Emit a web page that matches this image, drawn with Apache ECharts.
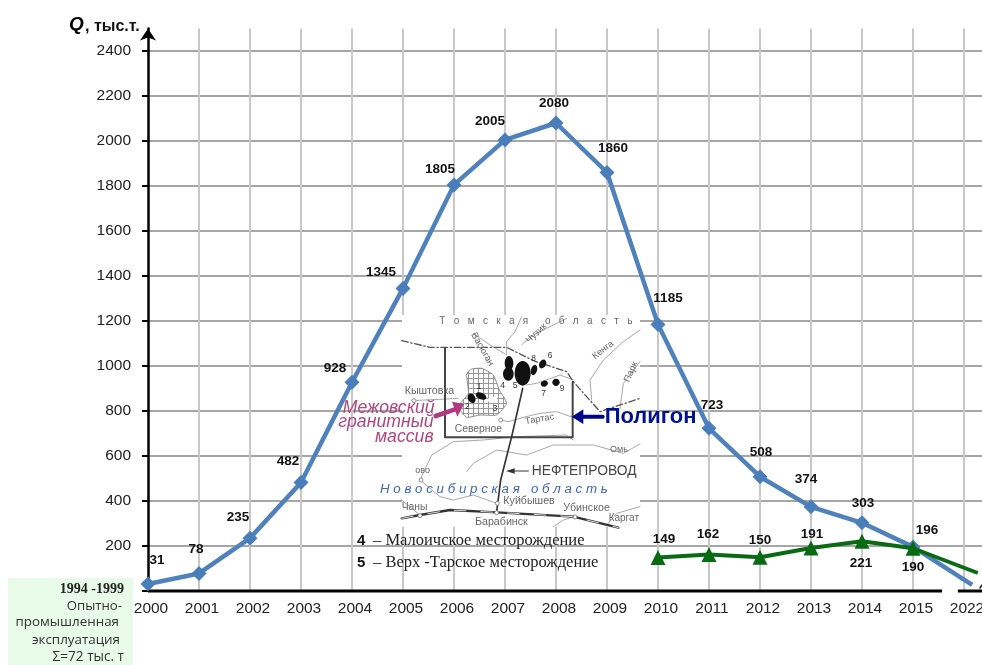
<!DOCTYPE html>
<html><head><meta charset="utf-8">
<style>html,body{margin:0;padding:0;background:#fff}#c{width:982px;height:665px}</style>
<script src="https://cdn.jsdelivr.net/npm/echarts@6/dist/echarts.min.js"></script>
</head><body><div id="c"></div>
<script>
// DATA
const tickYears = ['2000','2001','2002','2003','2004','2005','2006','2007','2008','2009','2010','2011','2012','2013','2014','2015','2022'];
const yTicks = [0,200,400,600,800,1000,1200,1400,1600,1800,2000,2200,2400];
const blueValues = [31,78,235,482,928,1345,1805,2005,2080,1860,1185,723,508,374,303,196];
const blueTail = [16.16,27];
const greenStart = 10;
const greenValues = [149,162,150,191,221,190];
const greenTail = [16.27,80];
const axisSegments = [[0,15.57],[15.88,16.36]];
// label offsets (style, not data)
const blueOffsets = [[9,-24],[-3,-24],[-12,-21],[-13,-21],[-17,-14],[-22,-16],[-14,-16],[-15,-19],[-2,-20],[6,-24],[10,-26],[3,-23],[1,-24],[-5,-28],[1,-20],[14,-17]];
const greenOffsets = [[6,-18],[-1,-20],[0,-17],[1,-14],[-1,22],[0,19]];

const chart = echarts.init(document.getElementById('c'), null, {renderer:'canvas'});
const SANS = '"Liberation Sans",Arial,sans-serif', SERIF='"Liberation Serif",serif';

function seriesData(start, vals, offs, tail){
  const d = vals.map((v,i)=>({value:[start+i,v],
    label:{show:true,position:'inside',offset:offs[i],formatter:String(v),color:'#111',fontFamily:SANS,fontWeight:'bold',fontSize:13.5}}));
  d.push({value:tail,symbol:'none',label:{show:false}});
  return d;
}
// hatch pattern
const pc = document.createElement('canvas'); pc.width=5; pc.height=5;
const px = pc.getContext('2d'); px.fillStyle='#fff'; px.fillRect(0,0,5,5);
px.fillStyle='#999'; px.fillRect(0,0,5,1); px.fillRect(0,0,1,5);

const Z=1;
function pl(points,color,w,dash){return {type:'polyline',z:Z,silent:true,shape:{points},style:{stroke:color,lineWidth:w,fill:null,lineDash:dash||null,lineCap:'round',lineJoin:'round'}};}
function txt(t,x,y,size,color,o){o=o||{};return {type:'text',z:Z,silent:true,x,y,rotation:o.rot||0,style:{text:t,fill:color,font:(o.font||'')+' '+size+'px '+(o.family||SANS),textAlign:o.align||'left',textVerticalAlign:'middle',textBaseline:'middle'}};}
function ell(x,y,rx,ry,rot,c){return {type:'ellipse',z:Z,silent:true,x,y,rotation:rot||0,shape:{cx:0,cy:0,rx,ry},style:{fill:c||'#111'}};}
function poly(points,fill){return {type:'polygon',z:Z,silent:true,shape:{points},style:{fill,stroke:null}};}
function town(cx,cy){return {type:'circle',z:Z,silent:true,shape:{cx,cy,r:6},style:{fill:'#fff',stroke:'#777',lineWidth:2.5}};}

const G='#a8a8a8', T='#666';
const mapChildren=[
  {type:'rect',z:Z,silent:true,shape:{x:186,y:45,width:714,height:635},style:{fill:'#fff'}},
  // rivers
  pl([[215,302],[300,298],[355,295]],G,3),
  pl([[480,360],[505,365],[550,352],[600,340],[650,335],[698,352]],G,3),
  pl([[400,100],[450,135],[500,165]],G,3),
  pl([[500,160],[500,125],[525,95],[545,50]],G,3),
  pl([[545,135],[570,110],[620,85],[680,55]],G,3),
  pl([[755,300],[750,240],[790,180],[850,125],[900,90]],G,3),
  pl([[840,325],[850,250],[900,185]],G,3),
  pl([[240,540],[275,465],[340,425],[430,420],[530,410],[680,405],[700,420]],G,3),
  pl([[380,515],[400,490],[470,450],[560,465],[640,435],[760,435],[850,460],[900,432]],G,3),
  pl([[240,540],[300,590],[340,600],[400,585],[470,610]],G,3),
  pl([[185,600],[215,625],[240,645]],G,3),
  pl([[640,680],[670,660],[705,650]],G,3),
  pl([[800,675],[830,640],[900,620]],G,3),
  pl([[560,255],[590,250],[660,225],[700,240]],G,3),
  // border
  pl([[185,122],[270,142],[500,142],[580,182],[680,215],[700,245],[780,335],[900,295]],'#555',4,[20,8,4,8]),
  // polygon frame
  pl([[315,145],[315,412],[698,412],[698,245]],'#444',6),
  // granite
  {type:'polygon',z:Z,silent:true,shape:{points:[[380,222],[395,207],[425,205],[460,225],[478,270],[500,310],[470,345],[420,345],[380,352],[355,320],[385,280]],smooth:0.15},style:{fill:{image:pc,repeat:'repeat'},stroke:'#777',lineWidth:2.5}},
  ell(458,300,15,9,0,'#fff'),
  // fields
  ell(507,190,13,22),ell(505,222,16,20),ell(548,220,24,37),ell(582,210,9,16,-0.3),ell(608,192,10,14,-0.5),ell(613,251,11,9,0.3),ell(648,247,11,11),ell(395,295,11,15,0.5),ell(423,288,17,10,-0.4),
  // pipeline, railway
  pl([[548,265],[515,410],[482,540],[470,635]],'#333',5),
  pl([[185,655],[240,645],[330,630],[470,637],[700,650],[835,683]],'#333',7),
  pl([[185,655],[240,645],[330,630],[470,637],[700,650],[835,683]],'#fff',2.5,[35,45]),
  town(240,647),town(470,638),town(472,610),town(705,651),town(222,302),town(482,360),town(243,540),
  // map labels
  txt('Т   о   м   с   к   а   я      о   б   л   а   с   т   ь',298,65,30,T),
  txt('Кыштовка',194,273,32,T),
  txt('Северное',344,386,31,T),
  txt('Тартас',555,365,28,T,{rot:0.17}),
  txt('Омь',810,450,27,T),
  txt('ово',226,511,27,T),
  txt('Чаны',185,620,31,T),
  txt('Куйбышев',490,602,32,T),
  txt('Убинское',670,625,32,T),
  txt('Каргат',806,655,30,T),
  txt('Барабинск',405,667,32,T),
  txt('Васюган',400,100,28,T,{rot:-1.05}),
  txt('Чузик',562,125,28,T,{rot:0.75}),
  txt('Кенга',760,172,28,T,{rot:0.65}),
  txt('Парк',860,245,28,T,{rot:1.15}),
  txt('1',410,260,25,'#333'),txt('2',375,320,25,'#333'),txt('3',458,327,25,'#333'),txt('4',481,256,26,'#333'),txt('5',518,256,26,'#333'),
  txt('8',574,177,25,'#333'),txt('6',623,168,25,'#333'),txt('7',604,282,25,'#333'),txt('9',659,266,25,'#333'),
  txt('НЕФТЕПРОВОД',575,513,41.5,'#444'),
  pl([[520,513],[565,513]],'#333',3),
  poly([[498,513],[524,505],[524,521]],'#333'),
  txt('Н о в о с и б и р с к а я   о б л а с т ь',120,567,40,'#3f68b8',{font:'italic'}),
  // pink arrow + label
  pl([[287,348],[345,328]],'#b0397f',14),
  poly([[372,312],[336,305],[352,350]],'#b0397f'),
  txt('Межовский',8,325,53,'#b0477f',{font:'italic'}),
  txt('гранитный',-5,366,53,'#b0477f',{font:'italic'}),
  txt('массив',105,410,53,'#b0477f',{font:'italic'}),
  // navy arrow + label
  pl([[725,350],[788,350]],'#00068c',12),
  poly([[695,350],[730,328],[730,372]],'#00068c'),
  txt('Полигон',794,351,66,'#00128f',{font:'bold'})
];

const option={
  animation:false,
  backgroundColor:'#fff',
  grid:{left:148,top:28.5,width:834,height:562.5,outerBoundsMode:'none'},
  xAxis:{type:'value',min:0,max:16.353,interval:1,
    axisLine:{show:false},axisTick:{show:false},
    axisLabel:{margin:7,padding:[3,0,0,6],showMinLabel:true,showMaxLabel:false,color:'#222',fontFamily:SANS,fontSize:15.5,hideOverlap:false,
      formatter:v=>Number.isInteger(v)?(tickYears[v]||''):''},
    splitLine:{show:true,showMinLine:false,showMaxLine:false,lineStyle:{color:'#c8c8c8',width:2}}},
  yAxis:{type:'value',min:0,max:2500,interval:200,
    axisLine:{show:true,symbol:['none','arrow'],symbolSize:[12,12],lineStyle:{color:'#000',width:2.5}},
    axisTick:{show:true,length:6,customValues:yTicks,lineStyle:{color:'#000',width:2}},
    axisLabel:{margin:17,customValues:yTicks,color:'#222',fontFamily:SANS,fontSize:15.5,formatter:v=>v>0?String(v):''},
    splitLine:{show:true,showMinLine:false,showMaxLine:true,lineStyle:{color:'#a6a6a6',width:2}}},
  graphic:[
    {type:'rect',z:Z,silent:true,shape:{x:8,y:578,width:125,height:87},style:{fill:'#e8fbe8'}},
    txt('1994 -1999',124,589,14,'#222',{font:'bold',family:SERIF,align:'right'}),
    txt('Опытно-',122,606,13.2,'#333',{family:'"Open Sans",sans-serif',align:'right'}),
    txt('промышленная',119,622,13.4,'#333',{family:'"Open Sans",sans-serif',align:'right'}),
    txt('эксплуатация',120,640,13.4,'#333',{family:'"Open Sans",sans-serif',align:'right'}),
    txt('Σ=72 тыс. т',124,657,13.6,'#333',{family:'"Open Sans",sans-serif',align:'right'}),
    {type:'group',z:Z,silent:true,x:340,y:300,scaleX:1/3,scaleY:1/3,children:mapChildren},
    txt('4',357,541,15,'#111',{font:'bold'}),
    txt('– Малоичское месторождение',373,541,16.5,'#222',{family:SERIF}),
    txt('5',357,563,15,'#111',{font:'bold'}),
    txt('– Верх -Тарское месторождение',373,563,16.5,'#222',{family:SERIF}),
    txt('Q',69,25,19,'#000',{font:'italic bold'}),
    txt(', тыс.т.',85,27,16,'#111',{font:'bold'}),
    pl([[980,588],[982,585]],'#222',1.5)
  ],
  series:[
    ...axisSegments.map(s=>({type:'line',silent:true,clip:false,symbol:'none',z:3,
      data:[[s[0],0],[s[1],0]],lineStyle:{color:'#000',width:3}})),
    {type:'line',clip:false,z:4,symbol:'diamond',symbolSize:15,data:seriesData(0,blueValues,blueOffsets,blueTail),
      itemStyle:{color:'#4a7ebb'},lineStyle:{color:'#4f81bd',width:4.5}},
    {type:'line',clip:false,z:5,symbol:'triangle',symbolSize:15,data:seriesData(greenStart,greenValues,greenOffsets,greenTail),
      itemStyle:{color:'#0a6a14'},lineStyle:{color:'#0a6a14',width:4}}
  ]
};
chart.setOption(option);
</script></body></html>
